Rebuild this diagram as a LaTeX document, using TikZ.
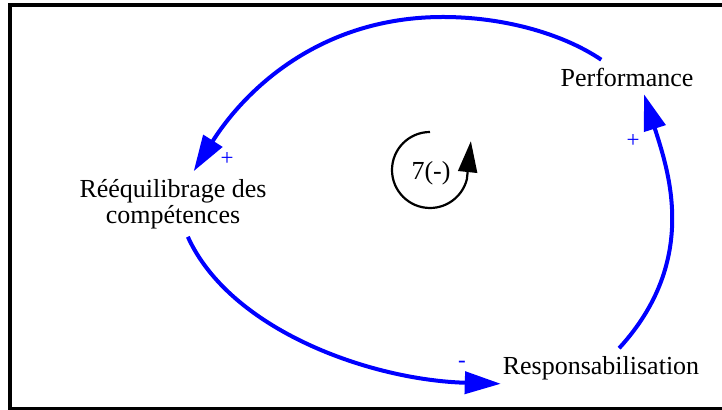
\documentclass[tikz,border=0pt]{standalone}
\usepackage{fontspec}
\setmainfont{Liberation Serif}
\usepackage{tikz}
\usetikzlibrary{arrows.meta}

\begin{document}
\begin{tikzpicture}[
    x=0.5pt, y=0.5pt,
    var/.style={font=\fontsize{13}{13}\selectfont, align=center, inner sep=2pt, outer sep=2pt},
    sign/.style={text=blue, font=\fontsize{11.5}{12}\selectfont, inner sep=0pt},
    link/.style={draw=blue, line width=2pt, -{Triangle[length=18pt, width=11pt]}},
    loopsym/.style={line width=1.1pt, -{Triangle[length=15.5pt, width=9.5pt]}}
]
    \useasboundingbox (0,0) rectangle (722,410);
    % Frame
    \draw[line width=2pt] (730,405) -- (10,405) -- (10,1) -- (730,1);

    % Variables
    \node[var] (perf) at (627,333) {Performance};
    \node[var] (reeq) at (173,206) {Rééquilibrage des\\compétences};
    \node[var] (resp) at (601,42) {Responsabilisation};

    % Links
    \coordinate (arctop) at (443,393);
    \draw[link] (perf) .. controls (560,378) and (500,393) .. (arctop)
        .. controls (320,393) and (245,320) .. (reeq);
    \draw[link] (reeq) .. controls (230,80) and (370,30) .. ([xshift=3pt,yshift=2pt]resp.south west);
    \draw[link] (resp) .. controls (700,150) and (668,240) .. ([xshift=8.5pt]perf.south);

    % Signs
    \node[sign] (s1) at (227,251) {+};
    \node[sign] (s2) at (633,269) {+};
    \node[sign] (s3) at (462,46) {-};

    % Loop
    \node[font=\fontsize{13}{13}\selectfont] (loop) at (431,237) {7(-)};
    \draw[loopsym] (430,278) arc[start angle=90, end angle=346, radius=38] -- ++(4,38);
\end{tikzpicture}
\end{document}
